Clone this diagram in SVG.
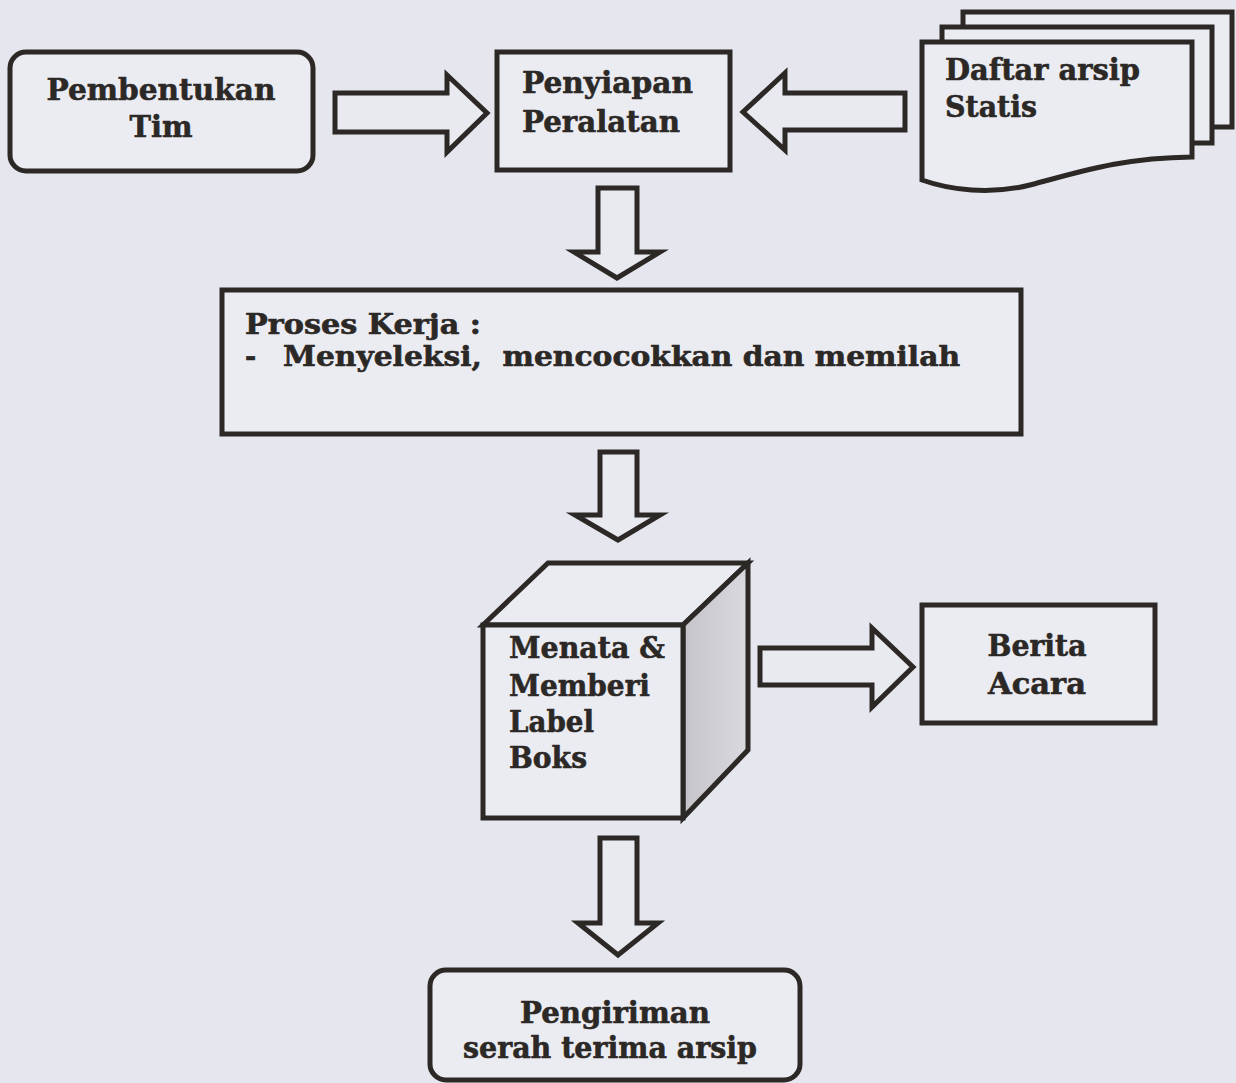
<svg xmlns="http://www.w3.org/2000/svg" width="1236" height="1083" viewBox="0 0 1236 1083">
<defs>
<style>
.bx{fill:#ebecf2;stroke:#2b2826;stroke-width:5;stroke-linejoin:miter}
.ar{fill:#e9eaf0;stroke:#2b2826;stroke-width:5;stroke-linejoin:miter}
.t{font-family:"DejaVu Serif","Liberation Serif",serif;font-weight:bold;font-size:30px;fill:#2b2826;stroke:#2b2826;stroke-width:0.6}
.s{font-size:27px}
.c{text-anchor:middle}
</style>
<linearGradient id="side" x1="0" y1="0" x2="1" y2="0">
<stop offset="0" stop-color="#c4c4c9"/>
<stop offset="1" stop-color="#d9d9de"/>
</linearGradient>
</defs>
<rect width="1236" height="1083" fill="#e6e7ee"/>

<g id="connectors">
<polygon class="ar" points="335,93 447,93 447,75 487,113 447,152 447,132 335,132"/>
<polygon class="ar" points="905,93 785,93 785,73 743,112 785,150 785,130 905,130"/>
<polygon class="ar" points="598,188 637,188 637,252 660,252 617,278 574,252 598,252"/>
<polygon class="ar" points="600,452 637,452 637,515 660,515 618,540 575,515 600,515"/>
<polygon class="ar" points="760,648 872,648 872,628 913,667 872,707 872,685 760,685"/>
<polygon class="ar" points="600,838 637,838 637,923 658,923 618,955 578,923 600,923"/>
</g>

<g id="pembentukan-tim">
<rect class="bx" x="10" y="52" width="303" height="119" rx="16"/>
<text class="t c" x="161" y="100" textLength="229" lengthAdjust="spacingAndGlyphs">Pembentukan</text>
<text class="t c" x="161" y="137" textLength="63" lengthAdjust="spacingAndGlyphs">Tim</text>
</g>

<g id="penyiapan-peralatan">
<rect class="bx" x="497" y="52" width="233" height="118"/>
<text class="t" x="522" y="93" textLength="171" lengthAdjust="spacingAndGlyphs">Penyiapan</text>
<text class="t" x="522" y="132" textLength="158" lengthAdjust="spacingAndGlyphs">Peralatan</text>
</g>

<g id="daftar-arsip-statis">
<rect class="bx" x="963" y="12" width="269" height="115"/>
<rect class="bx" x="942" y="27" width="270" height="116"/>
<path class="bx" d="M922,42 H1192 V157 C1120,158 1080,172 1030,185 C990,195 950,190 922,180 Z"/>
<text class="t" x="945" y="80" textLength="195" lengthAdjust="spacingAndGlyphs">Daftar arsip</text>
<text class="t" x="945" y="117" textLength="92" lengthAdjust="spacingAndGlyphs">Statis</text>
</g>

<g id="proses-kerja">
<rect class="bx" x="222" y="290" width="799" height="144"/>
<text class="t s" x="245" y="334" textLength="236" lengthAdjust="spacingAndGlyphs">Proses Kerja :</text>
<text class="t s" x="245" y="366">-</text>
<text class="t s" x="283" y="366" textLength="677" lengthAdjust="spacingAndGlyphs" xml:space="preserve">Menyeleksi,  mencocokkan dan memilah</text>
</g>

<g id="menata-memberi-label-boks">
<polygon class="bx" points="483,625 548,563 748,563 683,625" fill="#eeeff4"/>
<polygon points="683,625 748,563 748,750 683,818" fill="url(#side)" stroke="#2b2826" stroke-width="5" stroke-linejoin="miter"/>
<rect class="bx" x="483" y="625" width="200" height="193"/>
<text class="t" x="509" y="658" textLength="156" lengthAdjust="spacingAndGlyphs">Menata &amp;</text>
<text class="t" x="509" y="696" textLength="141" lengthAdjust="spacingAndGlyphs">Memberi</text>
<text class="t" x="509" y="732" textLength="85" lengthAdjust="spacingAndGlyphs">Label</text>
<text class="t" x="509" y="768" textLength="78" lengthAdjust="spacingAndGlyphs">Boks</text>
</g>

<g id="berita-acara">
<rect class="bx" x="922" y="605" width="233" height="118"/>
<text class="t c" x="1037" y="656" textLength="99" lengthAdjust="spacingAndGlyphs">Berita</text>
<text class="t c" x="1037" y="694" textLength="98" lengthAdjust="spacingAndGlyphs">Acara</text>
</g>

<g id="pengiriman">
<rect class="bx" x="430" y="970" width="370" height="110" rx="16"/>
<text class="t c" x="615" y="1023" textLength="190" lengthAdjust="spacingAndGlyphs">Pengiriman</text>
<text class="t c" x="610" y="1058" textLength="294" lengthAdjust="spacingAndGlyphs">serah terima arsip</text>
</g>
</svg>
